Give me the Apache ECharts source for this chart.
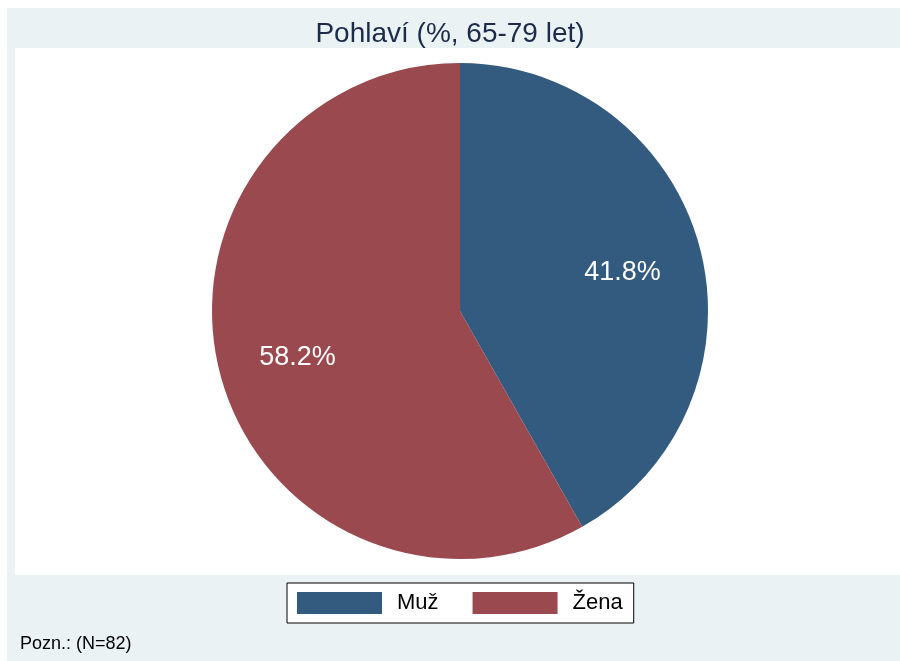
<!DOCTYPE html>
<html>
<head>
<meta charset="utf-8">
<script src="https://cdn.jsdelivr.net/npm/echarts@6/dist/echarts.min.js"></script>
<style>
html, body { margin: 0; padding: 0; background: #fff; }
#chart { width: 900px; height: 661px; }
</style>
</head>
<body>
<div id="chart"></div>
<script>
var categories = ['Muž', 'Žena'];
var values = [41.8, 58.2];
var colors = ['#335a7f', '#9a494f'];

var pieData = categories.map(function (name, i) {
    return { name: name, value: values[i], itemStyle: { color: colors[i] } };
});

var myChart = echarts.init(document.getElementById('chart'));
myChart.setOption({
    animation: false,
    backgroundColor: '#fff',
    graphic: [
        // outer light panel
        { type: 'rect', shape: { x: 7, y: 8, width: 893, height: 653 }, style: { fill: '#eaf2f3' }, z: -10 },
        // white plot region
        { type: 'rect', shape: { x: 15, y: 48, width: 885, height: 527 }, style: { fill: '#ffffff' }, z: -9 },
        {
            type: 'text', left: 20, top: 635,
            style: { text: 'Pozn.: (N=82)', fontFamily: 'Liberation Sans, Arial', fontSize: 18, fill: '#000' }
        }
    ],
    title: {
        text: 'Pohlaví (%, 65-79 let)',
        left: 'center',
        top: 15,
        textStyle: { fontFamily: 'Liberation Sans, Arial', fontSize: 28, fontWeight: 'normal', color: '#1c2b4b' }
    },
    legend: {
        data: categories,
        left: 287,
        top: 583,
        orient: 'horizontal',
        backgroundColor: '#fff',
        borderColor: '#000',
        borderWidth: 1,
        padding: [9, 11, 9, 10],
        itemWidth: 85,
        itemHeight: 22,
        itemGap: 34,
        icon: 'rect',
        selectedMode: false,
        textStyle: { fontFamily: 'Liberation Sans, Arial', fontSize: 22, color: '#000', padding: [0, 0, 0, 10] }
    },
    series: [
        {
            type: 'pie',
            center: [460, 311],
            radius: [0, 248],
            startAngle: 90,
            clockwise: true,
            silent: true,
            label: { show: false },
            labelLine: { show: false },
            data: pieData
        },
        {
            // transparent overlay, only used to place the percentage labels
            type: 'pie',
            center: [460, 315],
            radius: [82, 248],
            startAngle: 90,
            clockwise: true,
            silent: true,
            itemStyle: { color: 'rgba(0,0,0,0)' },
            label: {
                show: true,
                position: 'inside',
                formatter: function (p) { return p.value.toFixed(1) + '%'; },
                fontFamily: 'Liberation Sans, Arial',
                fontSize: 27,
                color: '#fff'
            },
            labelLine: { show: false },
            data: categories.map(function (name, i) { return { name: name + '_lbl', value: values[i] }; })
        }
    ]
});
</script>
</body>
</html>
